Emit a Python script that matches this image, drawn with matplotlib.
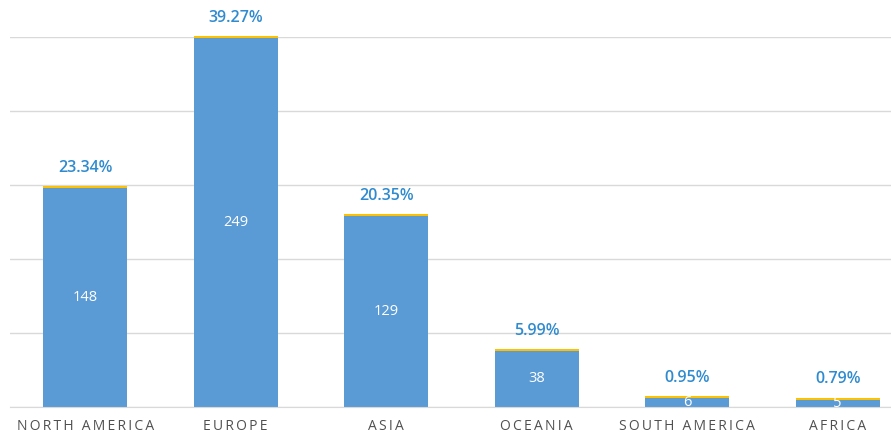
import matplotlib.pyplot as plt

regions = ['NORTH AMERICA', 'EUROPE', 'ASIA', 'OCEANIA', 'SOUTH AMERICA', 'AFRICA']
counts = [148, 249, 129, 38, 6, 5]
caps = [1.4, 1.4, 1.4, 1.4, 1.4, 1.4]
shares = ['23.34%', '39.27%', '20.35%', '5.99%', '0.95%', '0.79%']

plt.rcParams['font.family'] = ['Open Sans', 'DejaVu Sans']

fig = plt.figure(figsize=(8.91, 4.34), dpi=100)
ax = fig.add_axes([10/891, 27/434, 903/891, 370/434])

x = list(range(len(regions)))
ax.bar(x, counts, width=0.56, color='#5B9BD5', zorder=2)
ax.bar(x, caps, width=0.56, bottom=counts, color='#FFC000', zorder=2, clip_on=False)

for i in x:
    ax.text(i, counts[i]/2, str(counts[i]), color='white', fontsize=10.5,
            ha='center', va='center', clip_on=True, zorder=3)
    ax.annotate(shares[i], (i, counts[i] + caps[i]), xytext=(0, 13),
                textcoords='offset points', ha='center', va='center',
                color='#2F8BD0', fontsize=11.5, fontweight='semibold',
                annotation_clip=False)

ax.set_xlim(-0.5, 5.5)
ax.set_ylim(0, 250)
ax.set_yticks(range(0, 251, 50))
ax.yaxis.grid(True, color='#D9D9D9', lw=1)
ax.set_axisbelow(True)
for s in ['top', 'right', 'left']:
    ax.spines[s].set_visible(False)
ax.spines['bottom'].set_color('#D9D9D9')
ax.tick_params(left=False, labelleft=False, bottom=False)
ax.set_xticks(x)
ax.set_xticklabels(['\u2009'.join(r) for r in regions], color='#505050', fontsize=10)
ax.tick_params(axis='x', pad=5)

fig.savefig('out.png', dpi=100)
